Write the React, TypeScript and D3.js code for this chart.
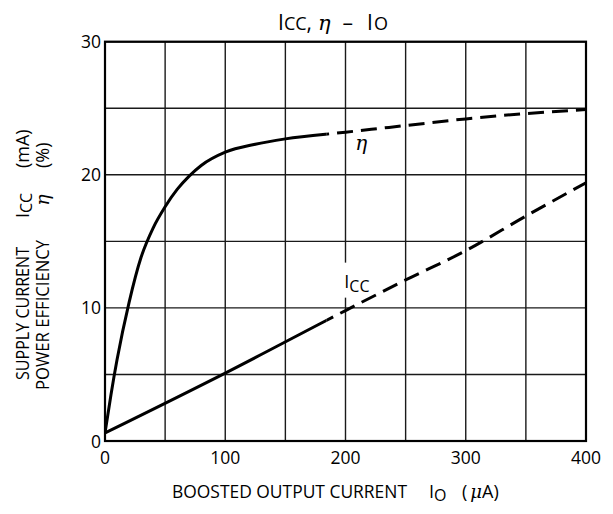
import * as d3 from 'd3';

// boosted output current IO (uA) and the two curves
const etaCurrent = [0, 5, 10, 20, 30, 40, 50, 60, 70, 80, 100, 125, 150, 200, 250, 300, 350, 400];
const etaValues = [0.6, 3.5, 6.1, 10.4, 13.8, 16.0, 17.6, 18.9, 19.9, 20.7, 21.7, 22.3, 22.7, 23.2, 23.7, 24.2, 24.6, 24.9];
const iccCurrent = [0, 100, 200, 250, 300, 350, 400];
const iccValues = [0.6, 5.1, 9.8, 12.1, 14.3, 16.9, 19.4];

const xTickLabels = [0, 100, 200, 300, 400];
const yTickLabels = [0, 10, 20, 30];

// measured part is solid, the rest is drawn dashed
const solidUntil = 184;

const width = 613;
const height = 514;
const left = 105;
const right = 586;
const top = 41.7;
const bottom = 441;

const font = "'Open Sans', 'Noto Sans', sans-serif";
const greek = "'DejaVu Serif', serif";

type Pt = [number, number];

export default function App() {
  const x = d3.scaleLinear().domain([0, 400]).range([left, right]);
  const y = d3.scaleLinear().domain([0, 30]).range([bottom, top]);

  const line = d3
    .line<Pt>()
    .x((d) => x(d[0]))
    .y((d) => y(d[1]))
    .curve(d3.curveMonotoneX);

  const etaPath = line(etaCurrent.map((c, i) => [c, etaValues[i]] as Pt)) ?? '';
  const iccPath = line(iccCurrent.map((c, i) => [c, iccValues[i]] as Pt)) ?? '';

  const split = x(solidUntil);

  return (
    <svg
      width={width}
      height={height}
      style={{ position: 'absolute', left: 0, top: 0, background: '#fff' }}
      fontFamily={font}
    >
      <defs>
        <clipPath id="solid-part">
          <rect x={left} y={top} width={split - left} height={bottom - top} />
        </clipPath>
        <clipPath id="dashed-part">
          <rect x={split} y={top} width={right - split} height={bottom - top} />
        </clipPath>
      </defs>

      {/* grid */}
      {x.ticks(8).map((t) => (
        <line key={'gx' + t} x1={x(t)} x2={x(t)} y1={top} y2={bottom} stroke="#1a1a1a" strokeWidth={1.4} />
      ))}
      {y.ticks(6).map((t) => (
        <line key={'gy' + t} x1={left} x2={right} y1={y(t)} y2={y(t)} stroke="#1a1a1a" strokeWidth={1.4} />
      ))}
      <rect x={left} y={top} width={right - left} height={bottom - top} fill="none" stroke="#000" strokeWidth={2.2} />

      {/* curves */}
      <g fill="none" stroke="#000" strokeWidth={3}>
        <path d={etaPath} clipPath="url(#solid-part)" />
        <path d={iccPath} clipPath="url(#solid-part)" />
        <path d={etaPath} clipPath="url(#dashed-part)" strokeDasharray="16 8" />
        <path d={iccPath} clipPath="url(#dashed-part)" strokeDasharray="16 8" />
      </g>

      {/* curve labels */}
      <rect x={x(190)} y={y(13.4)} width={30} height={35} fill="#fff" />
      <text x={x(199)} y={y(11.5)} fontSize={18}>
        I<tspan fontSize={16} dy={4}>CC</tspan>
      </text>
      <text x={x(213)} y={y(21.9)} fontSize={20} fontStyle="italic" textAnchor="middle" fontFamily={greek}>
        η
      </text>

      {/* ticks */}
      {xTickLabels.map((t) => (
        <text key={'xt' + t} x={x(t)} y={464} fontSize={17.5} textAnchor="middle">
          {t}
        </text>
      ))}
      {yTickLabels.map((t) => (
        <text key={'yt' + t} x={101} y={y(t) + 6.5} fontSize={17.5} textAnchor="end">
          {t}
        </text>
      ))}

      {/* title */}
      <text x={278} y={30} fontSize={21}>
        I<tspan fontSize={18}>CC</tspan>,
        <tspan dx={6} fontStyle="italic" fontFamily={greek}>η</tspan>
        <tspan dx={12}>–</tspan>
        <tspan dx={14}>I</tspan>
        <tspan fontSize={18} dx={1}>O</tspan>
      </text>

      {/* x axis title */}
      <text x={172} y={498} fontSize={18} textLength={235} lengthAdjust="spacingAndGlyphs">
        BOOSTED OUTPUT CURRENT
      </text>
      <text x={429} y={498} fontSize={18}>
        I<tspan fontSize={16} dy={3}>O</tspan>
      </text>
      <text x={462} y={498} fontSize={18}>
        (<tspan dx={3} fontStyle="italic" fontFamily={greek}>μ</tspan>A)
      </text>

      {/* y axis title */}
      <g transform="translate(29,0) rotate(-90)">
        <text x={-380} y={0} fontSize={18} textLength={133} lengthAdjust="spacingAndGlyphs">
          SUPPLY CURRENT
        </text>
        <text x={-218} y={0} fontSize={18}>
          I<tspan fontSize={16} dy={3}>CC</tspan>
        </text>
        <text x={-168} y={0} fontSize={18}>
          (mA)
        </text>
      </g>
      <g transform="translate(49,0) rotate(-90)">
        <text x={-390} y={0} fontSize={18} textLength={150} lengthAdjust="spacingAndGlyphs">
          POWER EFFICIENCY
        </text>
        <text x={-200} y={0} fontSize={19} textAnchor="middle" fontStyle="italic" fontFamily={greek}>
          η
        </text>
        <text x={-168} y={0} fontSize={18}>
          (%)
        </text>
      </g>
    </svg>
  );
}
